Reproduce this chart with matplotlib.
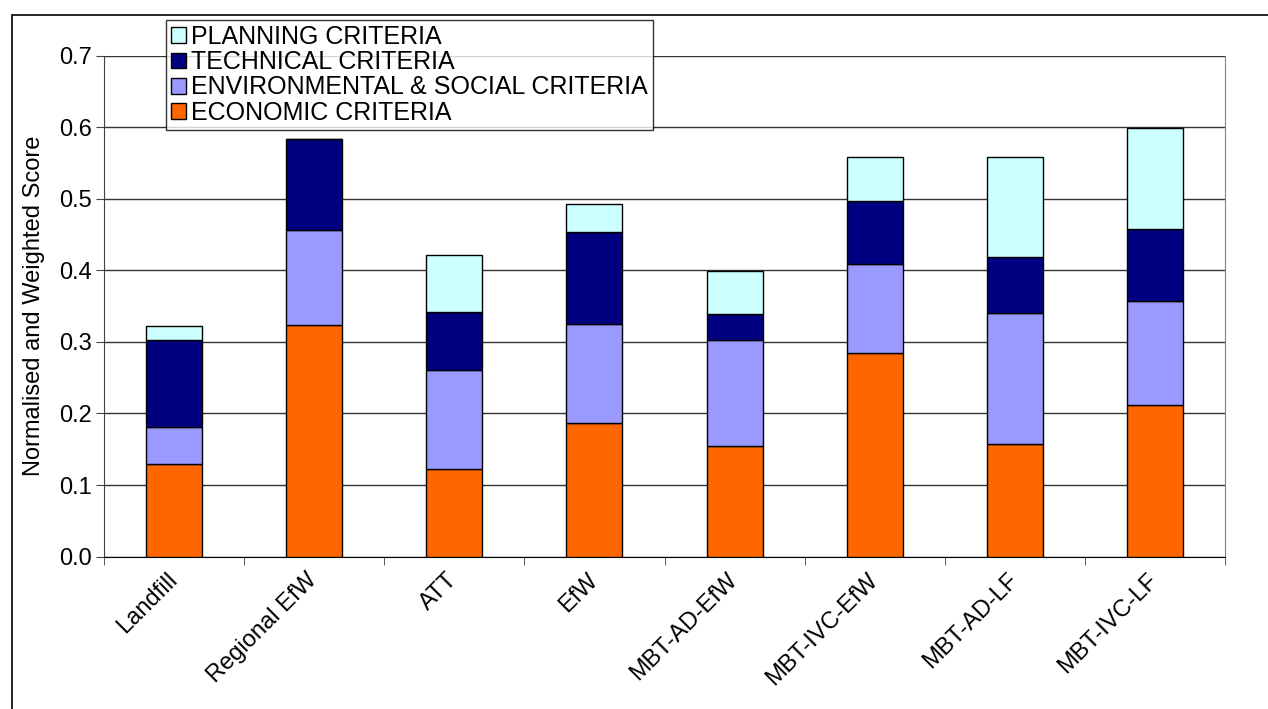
import matplotlib
matplotlib.use("Agg")
import matplotlib.pyplot as plt
import matplotlib.transforms as mtransforms
import numpy as np
from matplotlib.patches import Rectangle

plt.rcParams["font.family"] = ["Liberation Sans", "DejaVu Sans"]

# ---- scores per option ---------------------------------------------------
OPTIONS = ["Landfill", "Regional EfW", "ATT", "EfW",
           "MBT-AD-EfW", "MBT-IVC-EfW", "MBT-AD-LF", "MBT-IVC-LF"]
ECONOMIC = [0.130, 0.323, 0.123, 0.187, 0.154, 0.284, 0.157, 0.212]
ENV_SOCIAL = [0.051, 0.133, 0.138, 0.138, 0.148, 0.125, 0.184, 0.145]
TECHNICAL = [0.122, 0.127, 0.081, 0.128, 0.037, 0.088, 0.078, 0.101]
PLANNING = [0.019, 0.000, 0.079, 0.040, 0.060, 0.061, 0.140, 0.141]

SERIES = [
    ("ECONOMIC CRITERIA", ECONOMIC, "#FF6600"),
    ("ENVIRONMENTAL & SOCIAL CRITERIA", ENV_SOCIAL, "#9999FF"),
    ("TECHNICAL CRITERIA", TECHNICAL, "#000080"),
    ("PLANNING CRITERIA", PLANNING, "#CCFFFF"),
]

W, H = 1268, 709
fig = plt.figure(figsize=(W / 100, H / 100), dpi=100)
ax = fig.add_axes([104 / W, 1 - 556.6 / H, (1225 - 104) / W, (556.6 - 55.7) / H])

x = np.arange(len(OPTIONS))
bottom = np.zeros(len(OPTIONS))
handles = []
for label, vals, color in SERIES:
    vals = np.array(vals)
    bars = ax.bar(x, vals, 0.4, bottom=bottom, color=color,
                  edgecolor="black", linewidth=1.0, label=label, zorder=3)
    handles.append(bars)
    bottom += vals

ax.set_xlim(-0.5, len(OPTIONS) - 0.5)
ax.set_ylim(0, 0.7)
ax.set_yticks(np.arange(0, 0.71, 0.1))
ax.set_yticklabels([f"{v:.1f}" for v in np.arange(0, 0.71, 0.1)], fontsize=17)
ax.yaxis.grid(True, color="#333333", lw=1.0, zorder=0)

# category labels sit between boundary ticks
ax.set_xticks(x)
ax.set_xticklabels(OPTIONS, rotation=45, ha="right", rotation_mode="anchor",
                   fontsize=17)
ax.tick_params(axis="x", length=0, pad=9)
shift = mtransforms.ScaledTranslation(-0.08, 0, fig.dpi_scale_trans)
for lbl in ax.get_xticklabels():
    lbl.set_transform(lbl.get_transform() + shift)
ax.set_xticks(np.arange(-0.5, len(OPTIONS)), minor=True)
ax.tick_params(axis="x", which="minor", length=6, direction="out",
               color="#404040")
ax.tick_params(axis="y", length=6, direction="out", color="#404040", pad=3)

ax.set_ylabel("Normalised and Weighted Score", fontsize=17, labelpad=10)

ax.spines["right"].set_color("#808080")
ax.spines["left"].set_color("#404040")
ax.spines["bottom"].set_color("black")
ax.spines["top"].set_visible(False)

# chart-area frame
fig.patches.append(Rectangle((12 / W, -0.1), 1.2, 1 - 15 / H + 0.1,
                             transform=fig.transFigure, fill=False,
                             edgecolor="black", lw=1.2))

leg = fig.legend(handles[::-1], [s[0] for s in SERIES][::-1],
                 loc="upper left", bbox_to_anchor=(166 / W, 1 - 20 / H),
                 fontsize=18, frameon=True, fancybox=False, shadow=False,
                 handlelength=0.6, handleheight=0.6, handletextpad=0.2,
                 labelspacing=0.05, borderpad=0.2, borderaxespad=0)
leg.get_frame().set_edgecolor("black")
leg.get_frame().set_linewidth(1.0)

fig.savefig("out.png", dpi=100)
